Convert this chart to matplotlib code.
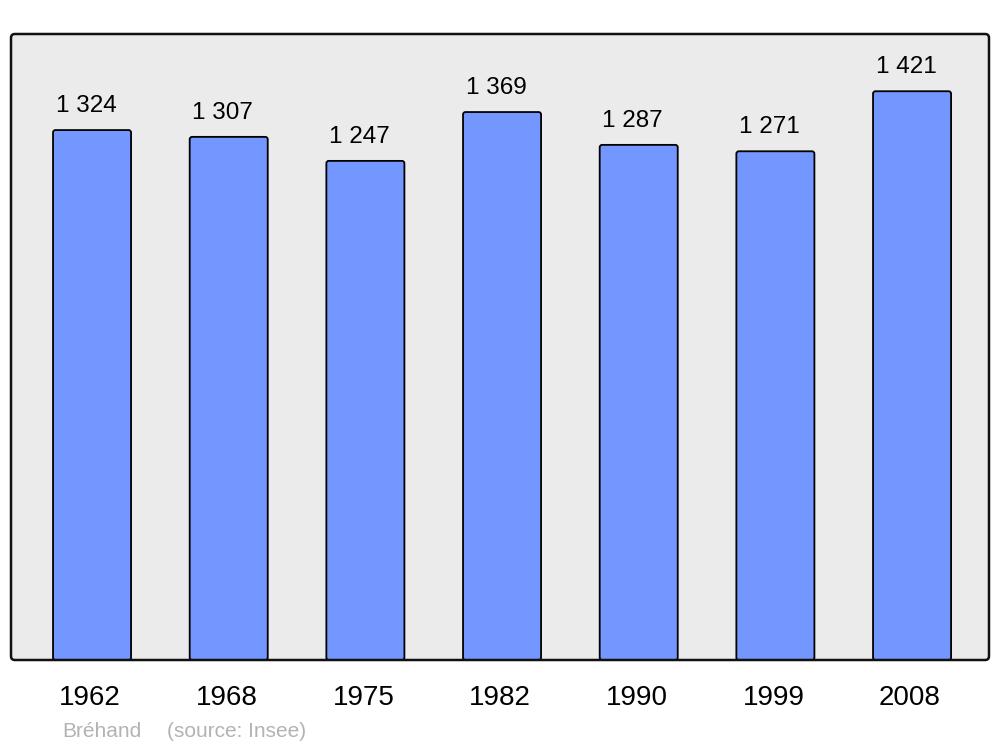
import matplotlib
matplotlib.use("Agg")
import matplotlib.pyplot as plt
from matplotlib.patches import FancyBboxPatch

years = ["1962", "1968", "1975", "1982", "1990", "1999", "2008"]
population = [1324, 1307, 1247, 1369, 1287, 1271, 1421]
labels = ["1 324", "1 307", "1 247", "1 369", "1 287", "1 271", "1 421"]
town = "Bréhand"
source = "(source: Insee)"

plt.rcParams['font.family'] = ['Liberation Sans', 'DejaVu Sans']

W, H = 1000, 747
fig = plt.figure(figsize=(W / 100, H / 100), dpi=100)
ax_l, ax_b, ax_r, ax_t = 11, 660, 989, 34
ax = fig.add_axes([ax_l / W, 1 - ax_b / H, (ax_r - ax_l) / W, (ax_b - ax_t) / H])
ax.set_xlim(-0.593, 6.563)
ax.set_ylim(0, 1564)
ax.axis('off')

# background + frame with rounded corners
aw, ah = ax_r - ax_l, ax_b - ax_t
frame_bg = FancyBboxPatch((0, 0), 1, 1, boxstyle="round,pad=0,rounding_size=0.004",
                          mutation_aspect=aw / ah, transform=ax.transAxes,
                          facecolor="#ebebeb", edgecolor="none", zorder=0, clip_on=False)
ax.add_patch(frame_bg)

x = list(range(len(years)))
bars = ax.bar(x, population, width=0.571, color="#7396ff", edgecolor="black", linewidth=1.3)
px_x = aw / (6.563 + 0.593)
px_y = ah / 1564
for b in bars:
    b.set_visible(False)
    r = 2.5 / px_x
    p = FancyBboxPatch((b.get_x(), b.get_y()), b.get_width(), b.get_height(),
                       boxstyle="round,pad=0,rounding_size=%f" % r,
                       mutation_aspect=px_x / px_y,
                       facecolor="#7396ff", edgecolor="black", linewidth=1.3, zorder=2)
    ax.add_patch(p)

for xi, v, lab in zip(x, population, labels):
    ax.annotate(lab, (xi, v), xytext=(-6, 18), textcoords="offset pixels",
                ha="center", va="baseline", fontsize=17.5, color="black")

frame = FancyBboxPatch((0, 0), 1, 1, boxstyle="round,pad=0,rounding_size=0.004",
                       mutation_aspect=aw / ah, transform=ax.transAxes,
                       facecolor="none", edgecolor="#111111", linewidth=1.8, zorder=5, clip_on=False)
ax.add_patch(frame)

for xi, yr in zip(x, years):
    ax.annotate(yr, (xi, 0), xytext=(-2, -45), textcoords="offset pixels",
                ha="center", va="baseline", fontsize=20, color="black")

fig.text(62 / W, 1 - 737 / H, town, fontsize=15, color="#b3b3b3", va="baseline")
fig.text(167 / W, 1 - 737 / H, source, fontsize=15, color="#b3b3b3", va="baseline")

fig.savefig("out.png", dpi=100, facecolor="white")
